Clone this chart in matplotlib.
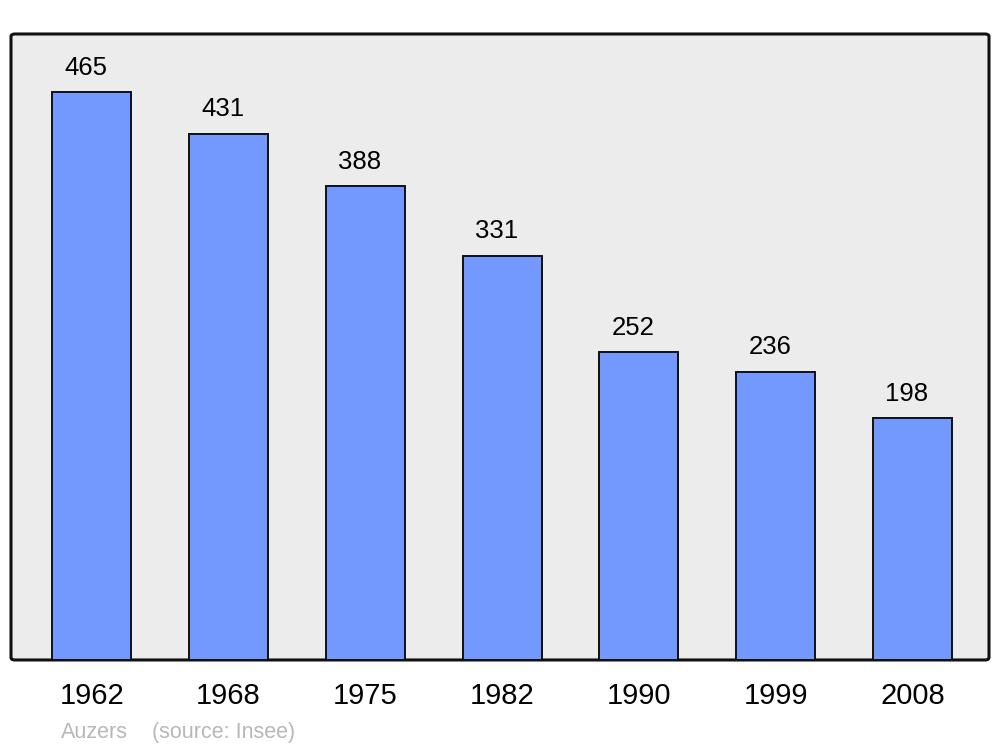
import matplotlib.pyplot as plt
from matplotlib.patches import FancyBboxPatch

years = ["1962", "1968", "1975", "1982", "1990", "1999", "2008"]
population = [465, 431, 388, 331, 252, 236, 198]

BAR_COLOR = "#7399ff"
BG_COLOR = "#ececec"
FOOTER_COLOR = "#b8b8b8"

plt.rcParams["font.family"] = ["Liberation Sans", "DejaVu Sans"]

fig = plt.figure(figsize=(10, 7.47), dpi=100)
ax = fig.add_axes([0.011, 0.1165, 0.978, 0.838])
ax.set_facecolor("none")
for s in ax.spines.values():
    s.set_visible(False)

frame = FancyBboxPatch(
    (0, 0), 1, 1,
    boxstyle="round,pad=0,rounding_size=0.004",
    linewidth=2.2, edgecolor="#111111", facecolor=BG_COLOR,
    transform=ax.transAxes, zorder=0, clip_on=False,
)
ax.add_patch(frame)

x = list(range(len(years)))
ax.bar(x, population, width=0.578, color=BAR_COLOR, edgecolor="#111111",
       linewidth=1.4, zorder=2)

for xi, v in zip(x, population):
    ax.annotate(str(v), (xi, v), xytext=(-4, 9), textcoords="offset points",
                ha="center", va="bottom", fontsize=18.5, color="black")
    ax.text(xi, -0.058, years[xi], transform=ax.get_xaxis_transform(),
            ha="center", va="center", fontsize=21, color="black")

ax.set_xlim(-0.59, 6.56)
ax.set_ylim(0, 512.5)
ax.set_xticks([])
ax.set_yticks([])

fig.text(0.061, 0.019, "Auzers", fontsize=15.5, color=FOOTER_COLOR, va="center")
fig.text(0.152, 0.019, "(source: Insee)", fontsize=15.5, color=FOOTER_COLOR, va="center")

fig.savefig("out.png", dpi=100)
